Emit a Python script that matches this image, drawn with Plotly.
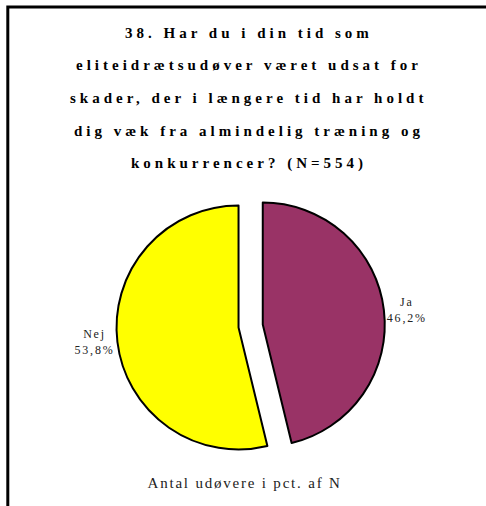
import plotly.graph_objects as go

# data
answers = ["Ja", "Nej"]
shares = [46.2, 53.8]
slice_colors = ["#993366", "#FFFF00"]

title_lines = [
    "38. Har du i din tid som",
    "eliteidrætsudøver været udsat for",
    "skader, der i længere tid har holdt",
    "dig væk fra almindelig træning og",
    "konkurrencer? (N=554)",
]
footer = "Antal udøvere i pct. af N"

W, H = 486, 506
SERIF = "Liberation Serif, Times New Roman, serif"

fig = go.Figure(go.Pie(
    labels=answers,
    values=shares,
    sort=False,
    direction="clockwise",
    rotation=0,
    pull=[0.1, 0.1],
    marker=dict(colors=slice_colors, line=dict(color="black", width=2)),
    textposition="outside",
    texttemplate="%{label}<br>%{value:.1f}%",
    textfont=dict(family=SERIF, size=12, color="#222222"),
    domain=dict(x=[0.2088, 0.8488], y=[0.0905, 0.6209]),
    hoverinfo="skip",
))

# title lines spaced out like the original
title_y = [33, 65, 98, 131, 163]
annotations = []
for line, ypx in zip(title_lines, title_y):
    annotations.append(dict(
        text=line, x=255 / W, y=1 - ypx / H, xref="paper", yref="paper",
        xanchor="center", yanchor="middle", showarrow=False,
        font=dict(family=SERIF, size=15, color="black", weight="bold"),
    ))
annotations.append(dict(
    text=footer, x=251 / W, y=1 - 483 / H, xref="paper", yref="paper",
    xanchor="center", yanchor="middle", showarrow=False,
    font=dict(family=SERIF, size=15, color="#222222"),
))

fig.update_layout(
    width=W, height=H,
    margin=dict(t=0, b=0, l=0, r=0),
    paper_bgcolor="white",
    plot_bgcolor="white",
    showlegend=False,
    separators=",.",
    annotations=annotations,
    shapes=[dict(type="rect", xref="paper", yref="paper",
                 x0=8 / W, x1=1.05, y0=-0.05, y1=1 - 7 / H,
                 line=dict(color="black", width=3))],
)

# no page margin; the original also uses wide letter spacing throughout
post_js = """
document.body.style.margin = '0';
var gd = document.getElementById('{plot_id}');
gd.querySelectorAll('text').forEach(function (t) {
  var w = window.getComputedStyle(t).fontWeight;
  t.style.letterSpacing = (w === 'bold' || parseInt(w) >= 600) ? '4px' : '1.8px';
});
"""

fig.write_html("out.html", config={"displayModeBar": False}, post_script=post_js)
